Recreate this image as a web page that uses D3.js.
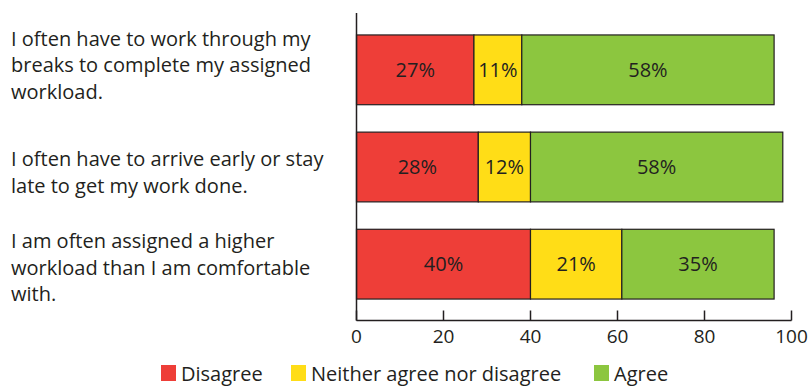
<!DOCTYPE html>
<html lang="en">
<head>
  <meta charset="UTF-8">
  <script src="https://d3js.org/d3.v7.min.js"></script>
  <style>
    body { margin: 0; background: #fff; }
    text { font-family: "Open Sans", sans-serif; fill: #231f20; }
  </style>
</head>
<body>
  <svg id="chart" width="809" height="387"></svg>
  <script>
    var statements = [
      ['I often have to work through my', 'breaks to complete my assigned', 'workload.'],
      ['I often have to arrive early or stay', 'late to get my work done.'],
      ['I am often assigned a higher', 'workload than I am comfortable', 'with.']
    ];
    var categories = ['Disagree', 'Neither agree nor disagree', 'Agree'];
    var disagree = [27, 28, 40];
    var neither = [11, 12, 21];
    var agree = [58, 58, 35];
    var ticks = [0, 20, 40, 60, 80, 100];
    var colors = ['#ee3e38', '#ffdd17', '#8cc63f'];

    var svg = d3.select('#chart');
    var x = d3.scaleLinear().domain([0, 100]).range([356.5, 791.5]);
    var y = d3.scaleBand().domain([0, 1, 2]).range([21.25, 312.75])
      .paddingInner(0.282).paddingOuter(0.141);

    var segs = [];
    statements.forEach(function (s, i) {
      var vals = [disagree[i], neither[i], agree[i]], acc = 0;
      vals.forEach(function (v, k) {
        segs.push({ row: i, k: k, x0: acc, x1: acc + v, v: v });
        acc += v;
      });
    });

    svg.selectAll('rect.seg').data(segs).enter().append('rect')
      .attr('class', 'seg')
      .attr('x', d => x(d.x0)).attr('width', d => x(d.x1) - x(d.x0))
      .attr('y', d => y(d.row)).attr('height', y.bandwidth())
      .attr('fill', d => colors[d.k])
      .attr('stroke', '#231f20').attr('stroke-width', 1.2);

    svg.selectAll('text.val').data(segs).enter().append('text')
      .attr('class', 'val')
      .attr('x', d => (x(d.x0) + x(d.x1)) / 2)
      .attr('y', d => y(d.row) + y.bandwidth() / 2 + 7)
      .attr('text-anchor', 'middle')
      .style('font-size', '20px')
      .text(d => d.v + '%');

    // y axis line
    svg.append('line').attr('x1', x(0)).attr('x2', x(0)).attr('y1', 13).attr('y2', 320.5)
      .attr('stroke', '#231f20').attr('stroke-width', 1.5);

    // x axis, ticks point up into the plot
    var xa = svg.append('g').attr('transform', 'translate(0,320.5)');
    xa.append('line').attr('x1', x(0)).attr('x2', x(100)).attr('stroke', '#231f20').attr('stroke-width', 1.5);
    xa.selectAll('line.tk').data(ticks).enter().append('line').attr('class', 'tk')
      .attr('x1', d => x(d)).attr('x2', d => x(d)).attr('y1', 0).attr('y2', -10)
      .attr('stroke', '#231f20').attr('stroke-width', 1.5);
    xa.selectAll('text').data(ticks).enter().append('text')
      .attr('x', d => x(d)).attr('y', 22.5)
      .attr('text-anchor', 'middle').style('font-size', '19px')
      .text(d => d);

    // statement labels (rows 2 and 3 sit a bit lower in the original)
    var labelShift = [2.5, 12.5, 10.5];
    statements.forEach(function (lines, i) {
      var n = lines.length;
      var cy = y(i) + y.bandwidth() / 2 + labelShift[i];
      var t = svg.append('text').style('font-size', '20px');
      lines.forEach(function (ln, j) {
        t.append('tspan').attr('x', 11)
          .attr('y', cy + (j - (n - 1) / 2) * 26.5)
          .text(ln);
      });
    });

    // legend
    var legX = [161, 291, 594];
    var lg = svg.selectAll('g.leg').data(categories).enter().append('g')
      .attr('class', 'leg').attr('transform', (d, i) => 'translate(' + legX[i] + ',365)');
    lg.append('rect').attr('width', 15).attr('height', 16).attr('fill', (d, i) => colors[i]);
    lg.append('text').attr('x', 20).attr('y', 16).style('font-size', '20px').text(d => d);
  </script>
</body>
</html>
